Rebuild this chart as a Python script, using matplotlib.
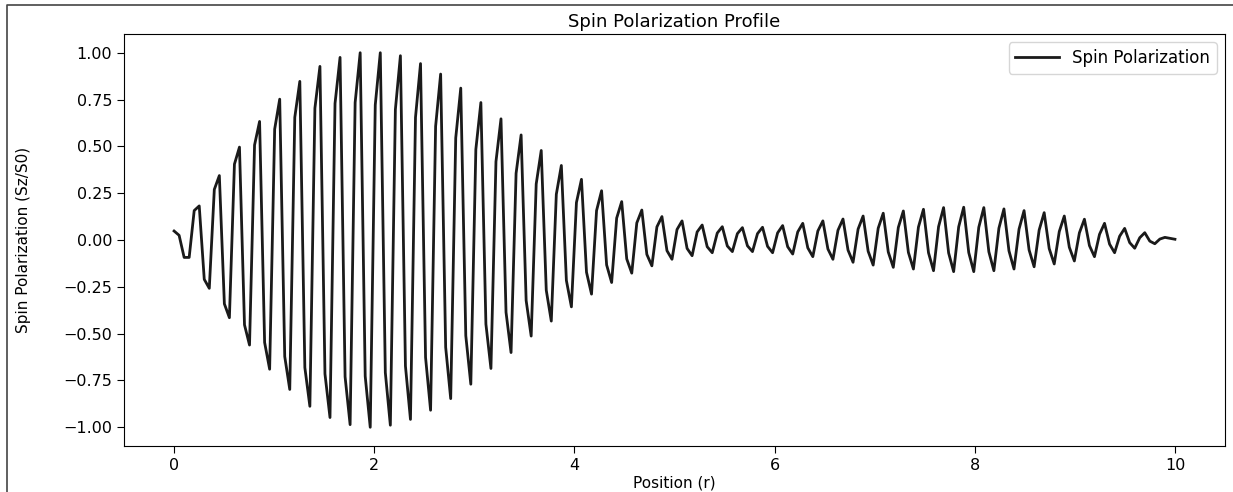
import numpy as np
import matplotlib.pyplot as plt
from matplotlib.lines import Line2D

# each oscillation is sampled 4 times: rising-edge point, crest, falling-edge point, trough
rise = [0.048, 0.157, 0.270, 0.405, 0.507, 0.592, 0.655, 0.704, 0.729, 0.734,
        0.721, 0.697, 0.655, 0.607, 0.545, 0.484, 0.419, 0.356, 0.299, 0.244,
        0.200, 0.157, 0.117, 0.091, 0.070, 0.056, 0.043, 0.037, 0.034, 0.034,
        0.038, 0.043, 0.048, 0.052, 0.058, 0.063, 0.067, 0.069, 0.071, 0.070,
        0.068, 0.063, 0.058, 0.053, 0.045, 0.038, 0.030, 0.020, 0.012, 0.005]
peak = [0.025, 0.182, 0.344, 0.496, 0.633, 0.752, 0.847, 0.927, 0.975, 1.000,
        1.000, 0.984, 0.942, 0.886, 0.811, 0.734, 0.647, 0.561, 0.478, 0.398,
        0.324, 0.263, 0.205, 0.160, 0.125, 0.102, 0.080, 0.071, 0.066, 0.068,
        0.077, 0.089, 0.102, 0.112, 0.128, 0.143, 0.155, 0.164, 0.173, 0.175,
        0.173, 0.166, 0.157, 0.146, 0.128, 0.111, 0.089, 0.062, 0.039, 0.014]
fall = [-0.093, -0.210, -0.341, -0.453, -0.547, -0.622, -0.681, -0.715, -0.730, -0.727,
        -0.708, -0.673, -0.627, -0.573, -0.511, -0.449, -0.386, -0.323, -0.268, -0.216,
        -0.172, -0.133, -0.101, -0.077, -0.057, -0.045, -0.036, -0.032, -0.031, -0.034,
        -0.036, -0.042, -0.048, -0.054, -0.060, -0.064, -0.066, -0.068, -0.069, -0.067,
        -0.063, -0.058, -0.053, -0.046, -0.039, -0.030, -0.022, -0.014, -0.006, 0.009]
trough = [-0.093, -0.258, -0.415, -0.561, -0.690, -0.798, -0.888, -0.948, -0.986, -1.000,
          -0.989, -0.958, -0.909, -0.847, -0.770, -0.686, -0.601, -0.513, -0.433, -0.357,
          -0.289, -0.227, -0.177, -0.138, -0.103, -0.084, -0.068, -0.062, -0.062, -0.068,
          -0.075, -0.089, -0.103, -0.119, -0.134, -0.146, -0.155, -0.164, -0.169, -0.169,
          -0.164, -0.155, -0.143, -0.128, -0.112, -0.089, -0.068, -0.044, -0.020, 0.004]

r = np.linspace(0, 10, 200)
sz = np.column_stack([rise, peak, fall, trough]).ravel()

fig = plt.figure(figsize=(12.33, 4.92), dpi=100)
ax = fig.add_axes([0.1006, 0.0935, 0.8929, 0.8374])
ax.plot(r, sz, color='#1a1a1a', lw=2.0, label='Spin Polarization')

ax.set_title('Spin Polarization Profile', fontsize=13, pad=5)
ax.set_xlabel('Position (r)', fontsize=11, labelpad=2)
ax.set_ylabel('Spin Polarization (Sz/S0)', fontsize=11)
ax.yaxis.set_label_coords(-0.0845, 0.5)
ax.tick_params(labelsize=11.5, length=5)
ax.legend(loc='upper right', fontsize=12, handlelength=2.6)

# frame line left and top, as in the screenshot
fig.add_artist(Line2D([0.0057, 0.0057, 1.0], [0.0, 0.9898, 0.9898],
                      transform=fig.transFigure, color='#444444', lw=1.2))

fig.savefig('out.png', dpi=100)
